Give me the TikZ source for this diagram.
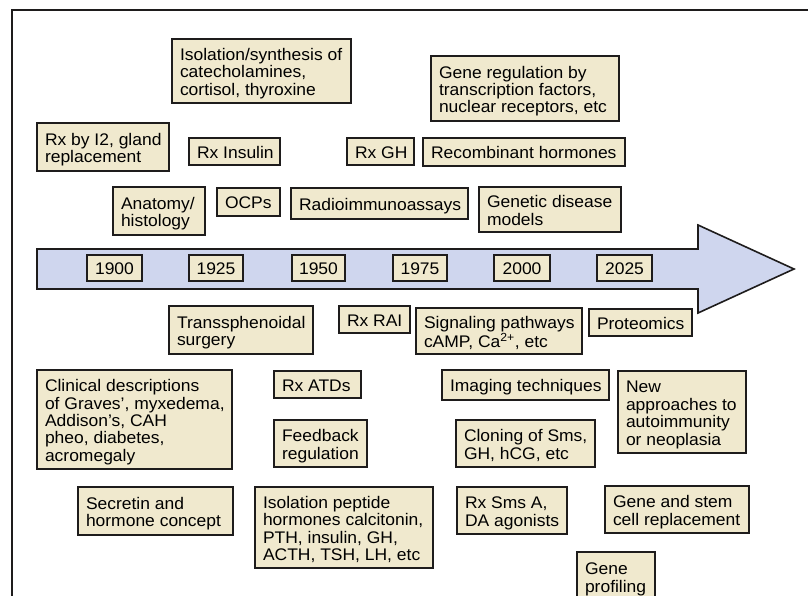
\documentclass[tikz,border=0pt]{standalone}
\usepackage{fontspec}
\setmainfont{Liberation Sans}[FakeStretch=1.04]
\definecolor{boxfill}{RGB}{240,233,206}
\definecolor{arrowfill}{RGB}{207,214,238}
\definecolor{edge}{RGB}{30,28,28}
\tikzset{
  box/.style={draw=edge, line width=1.5pt, fill=boxfill, inner xsep=8pt, inner ysep=0pt,
    font=\fontsize{16.8pt}{17.3pt}\selectfont},
  yearbox/.style={box},
  arrowshape/.style={draw=edge, line width=1.6pt, fill=arrowfill, line join=miter},
  frame/.style={draw=edge, line width=1.6pt}
}
% #1 style, #2 name, #3 x1, #4 y1, #5 x2, #6 y2, #7 alignment (l or c), #8 text
\newcommand\bx[8][box]{%
  \pgfmathsetmacro\bw{#5-#3}\pgfmathsetmacro\bh{#6-#4}\pgfmathsetmacro\tw{#5-#3-16}%
  \node[#1, minimum width=\bw pt, minimum height=\bh pt] (#2) at ({(#3+#5)/2},{(#4+#6)/2})
    {\makebox[\tw pt][#7]{\raisebox{0pt}[\dimexpr\height+7pt\relax][\depth]{\begin{tabular}{@{}l@{}}#8\end{tabular}}}};}
\begin{document}
\begin{tikzpicture}[x=1pt,y=-1pt]
\useasboundingbox (0,0) rectangle (808,596);
\clip (0,0) rectangle (808,596);
\fill[white] (0,0) rectangle (808,596);
\coordinate (fb) at (12,605);
\coordinate (ft) at (12,10);
\coordinate (fr) at (815,10);
\draw[frame] (fb) -- (ft) -- (fr);
% timeline arrow
\draw[arrowshape] (37,249) -- (698,249) -- (698,225) -- (794,269) -- (698,313) -- (698,289) -- (37,289) -- cycle;
% years
\bx[yearbox]{y1900}{87}{255}{142}{281}{c}{1900}
\bx[yearbox]{y1925}{189}{255}{243}{281}{c}{1925}
\bx[yearbox]{y1950}{292}{255}{345}{281}{c}{1950}
\bx[yearbox]{y1975}{393}{255}{447}{281}{c}{1975}
\bx[yearbox]{y2000}{494}{255}{550}{281}{c}{2000}
\bx[yearbox]{y2025}{597}{255}{652}{281}{c}{2025}
% upper boxes
\bx{iso}{172}{39}{351}{103}{l}{Isolation/synthesis of\\catecholamines,\\cortisol, thyroxine}
\bx{genereg}{431}{56}{619}{121}{l}{Gene regulation by\\transcription factors,\\nuclear receptors, etc}
\bx{rxi}{37}{123}{169}{171}{l}{Rx by I2, gland\\replacement}
\bx{rxins}{189}{138}{280}{165}{l}{Rx Insulin}
\bx{rxgh}{347}{138}{414}{165}{l}{Rx GH}
\bx{recomb}{423}{138}{625}{166}{l}{Recombinant hormones}
\bx{anat}{113}{187}{205}{235}{l}{Anatomy/\\histology}
\bx{ocp}{217}{188}{280}{216}{l}{OCPs}
\bx{ria}{291}{188}{468}{219}{l}{Radioimmunoassays}
\bx{gdm}{479}{187}{621}{232}{l}{Genetic disease\\models}
% lower boxes
\bx{trans}{169}{306}{313}{354}{l}{Transsphenoidal\\surgery}
\bx{rai}{339}{306}{410}{333}{l}{Rx RAI}
\bx{sig}{416}{308}{582}{354}{l}{Signaling pathways\\cAMP, Ca\textsuperscript{2+}, etc}
\bx{prot}{589}{309}{692}{336}{l}{Proteomics}
\bx{clin}{37}{370}{232}{469}{l}{Clinical descriptions\\of Graves’, myxedema,\\Addison’s, CAH\\pheo, diabetes,\\acromegaly}
\bx{atd}{274}{371}{361}{398}{l}{Rx ATDs}
\bx{img}{442}{370}{609}{400}{l}{Imaging techniques}
\bx{newap}{618}{371}{746}{453}{l}{New\\approaches to\\autoimmunity\\or neoplasia}
\bx{feed}{274}{420}{367}{467}{l}{Feedback\\regulation}
\bx{clon}{456}{420}{595}{467}{l}{Cloning of Sms,\\GH, hCG, etc}
\bx{secr}{78}{487}{233}{535}{l}{Secretin and\\hormone concept}
\bx{isopep}{255}{487}{433}{568}{l}{Isolation peptide\\hormones calcitonin,\\PTH, insulin, GH,\\ACTH, TSH, LH, etc}
\bx{rxsms}{457}{487}{567}{534}{l}{Rx Sms A,\\DA agonists}
\bx{stem}{605}{486}{749}{533}{l}{Gene and stem\\cell replacement}
\bx{prof}{577}{552}{655}{601}{l}{Gene\\profiling}
\end{tikzpicture}
\end{document}
